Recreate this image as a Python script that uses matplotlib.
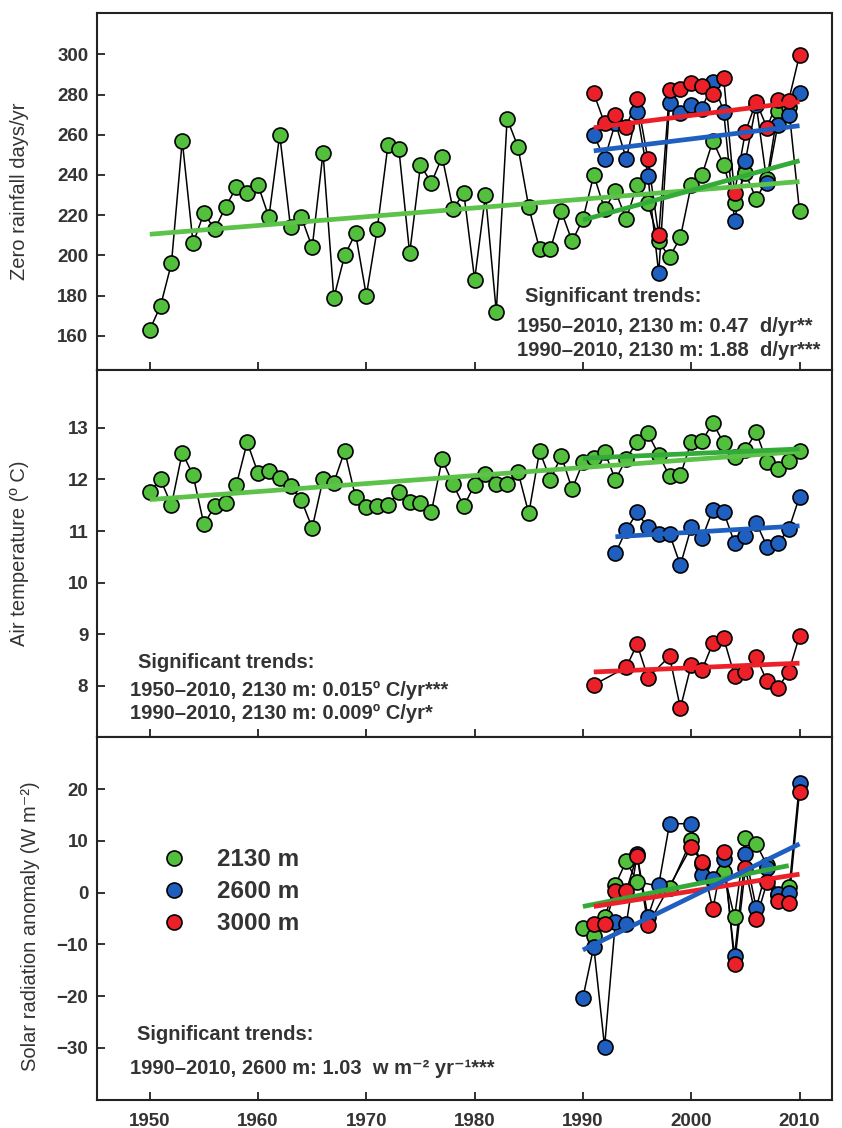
import matplotlib
matplotlib.use("Agg")
import matplotlib.pyplot as plt
from matplotlib.lines import Line2D

plt.rcParams["font.family"] = ["Liberation Sans", "DejaVu Sans"]

GREEN = "#52c03c"
BLUE = "#1f5fc0"
RED = "#ec2028"
GREEN_LONG = "#5cc24a"
GREEN_SHORT = "#34aa38"

# ---------------- data: zero rainfall days ----------------
rain_green_years = list(range(1950, 2011))
rain_green = [163, 175, 196, 257, 206, 221, 213, 224, 234, 231,
              235, 219, 260, 214, 219, 204, 251, 179, 200, 211,
              180, 213, 255, 253, 201, 245, 236, 249, 223, 231,
              188, 230, 172, 268, 254, 224, 203, 203, 222, 207,
              218, 240, 223, 232, 218, 235, 226, 207, 199, 209,
              235, 240, 257, 245, 226, 241, 228, 238, 272, 274,
              222]
rain_blue_years = list(range(1991, 2011))
rain_blue = [260, 248, 266, 248, 271.5, 239.5, 191, 276, 271, 275,
             273, 286.4, 271.5, 217, 247, 275, 236, 265, 270, 280.6]
rain_red_years = list(range(1991, 2011))
rain_red = [280.6, 265.7, 269.8, 264, 277.6, 248, 210, 282.3, 282.6, 285.9,
            284.2, 280.1, 288, 231, 261.5, 276.4, 263.5, 277.3, 277, 299.7]
# trend endpoints (start year, end year, start value, end value)
rain_trends = [
    (1950, 2010, 210.5, 236.7, GREEN_LONG),
    (1990, 2010, 217.6, 247.1, GREEN_SHORT),
    (1991, 2010, 252.0, 264.5, BLUE),
    (1991, 2010, 263.5, 276.4, RED),
]

# ---------------- data: air temperature ----------------
temp_green_years = list(range(1950, 2011))
temp_green = [11.76, 12.0, 11.5, 12.52, 12.08, 11.13, 11.48, 11.55, 11.9, 12.72,
              12.12, 12.17, 12.03, 11.87, 11.6, 11.06, 12.0, 11.94, 12.55, 11.66,
              11.47, 11.48, 11.5, 11.76, 11.57, 11.55, 11.37, 12.39, 11.91, 11.48,
              11.9, 12.1, 11.92, 11.92, 12.15, 11.34, 12.55, 11.99, 12.46, 11.81,
              12.33, 12.41, 12.54, 11.99, 12.4, 12.73, 12.89, 12.48, 12.06, 12.08,
              12.73, 12.74, 13.1, 12.7, 12.43, 12.57, 12.92, 12.33, 12.21, 12.36,
              12.55]
temp_blue_years = list(range(1993, 2011))
temp_blue = [10.57, 11.02, 11.36, 11.07, 10.95, 10.94, 10.34, 11.07, 10.86, 11.41,
             11.37, 10.77, 10.9, 11.16, 10.7, 10.77, 11.03, 11.66]
temp_red_years = [1991, 1994, 1995, 1996, 1998, 1999, 2000, 2001, 2002, 2003,
                  2004, 2005, 2006, 2007, 2008, 2009, 2010]
temp_red = [8.02, 8.36, 8.81, 8.16, 8.57, 7.57, 8.41, 8.31, 8.83, 8.92,
            8.2, 8.27, 8.56, 8.09, 7.96, 8.27, 8.97]
temp_trends = [
    (1950, 2010, 11.61, 12.54, GREEN_LONG),
    (1990, 2010, 12.41, 12.59, GREEN_SHORT),
    (1993, 2010, 10.89, 11.10, BLUE),
    (1991, 2010, 8.27, 8.44, RED),
]

# ---------------- data: solar radiation anomaly ----------------
solar_green_years = [1990, 1991, 1992, 1993, 1994, 1995, 1998, 2000, 2001, 2002,
                     2003, 2004, 2005, 2006, 2007, 2008, 2009]
solar_green = [-6.8, -8.4, -4.8, 1.5, 6.1, 2.1, 0.8, 10.1, 5.5, 2.5,
               3.9, -4.8, 10.5, 9.4, 5.3, -0.5, 1.0]
solar_blue_years = [1990, 1991, 1992, 1993, 1994, 1995, 1996, 1997, 1998, 2000,
                    2001, 2002, 2003, 2004, 2005, 2006, 2007, 2008, 2009, 2010]
solar_blue = [-20.3, -10.45, -29.8, -5.6, -6.1, 7.4, -4.7, 1.5, 13.3, 13.3,
              3.3, 2.6, 6.5, -12.3, 7.4, -3.0, 4.8, -0.3, -0.1, 21.2]
solar_red_years = [1991, 1992, 1993, 1994, 1995, 1996, 2000, 2001, 2002, 2003,
                   2004, 2005, 2006, 2007, 2008, 2009, 2010]
solar_red = [-6.1, -6.1, 0.3, 0.3, 7.1, -6.3, 8.8, 5.9, -3.2, 7.9,
             -13.8, 4.7, -5.2, 2.0, -1.6, -2.1, 19.5]
solar_trends = [
    (1990, 2009, -2.7, 5.2, GREEN_SHORT),
    (1991, 2010, -2.7, 3.55, RED),
    (1990, 2010, -11.1, 9.4, BLUE),
]

legend_labels = ["2130 m", "2600 m", "3000 m"]
xticks = [1950, 1960, 1970, 1980, 1990, 2000, 2010]

W, H = 842, 1128
fig = plt.figure(figsize=(W / 100, H / 100), dpi=100)


def px_axes(x0, y0, x1, y1):
    return fig.add_axes([x0 / W, 1 - y1 / H, (x1 - x0) / W, (y1 - y0) / H])


def draw_series(ax, x, y, color):
    ax.plot(x, y, color="black", lw=1.1, zorder=2)
    ax.plot(x, y, "o", ms=10.8, mfc=color, mec="black", mew=1.2, zorder=3)


def draw_trends(ax, trends):
    for x0, x1, y0, y1, c in trends:
        ax.plot([x0, x1], [y0, y1], color=c, lw=3.4, zorder=4,
                solid_capstyle="butt")


def style(ax, ylim, yticks, show_x):
    ax.set_xlim(1945.1, 2013)
    ax.set_ylim(*ylim)
    ax.set_xticks(xticks)
    ax.set_yticks(yticks)
    ax.tick_params(direction="in", length=6, width=1.3, labelsize=13.5,
                   color="#222222")
    ax.tick_params(axis="x", pad=9)
    ax.tick_params(axis="y", pad=6)
    for lab in ax.get_xticklabels() + ax.get_yticklabels():
        lab.set_fontweight("bold")
        lab.set_color("#333333")
    if not show_x:
        ax.set_xticklabels([])
    for s in ax.spines.values():
        s.set_linewidth(1.5)
        s.set_color("#222222")


ax1 = px_axes(96.7, 13.3, 832, 370)
ax2 = px_axes(96.7, 370, 832, 737)
ax3 = px_axes(96.7, 737, 832, 1100)

# top
draw_series(ax1, rain_green_years, rain_green, GREEN)
draw_series(ax1, rain_blue_years, rain_blue, BLUE)
draw_series(ax1, rain_red_years, rain_red, RED)
draw_trends(ax1, rain_trends)
style(ax1, (143, 320.4), [160, 180, 200, 220, 240, 260, 280, 300], False)
ax1.set_ylabel("Zero rainfall days/yr", fontsize=14.5, color="#333333")
ax1.yaxis.set_label_coords(-0.092, 0.5)

# middle
draw_series(ax2, temp_green_years, temp_green, GREEN)
draw_series(ax2, temp_blue_years, temp_blue, BLUE)
draw_series(ax2, temp_red_years, temp_red, RED)
draw_trends(ax2, temp_trends)
style(ax2, (7.01, 14.12), [8, 9, 10, 11, 12, 13], False)
ax2.set_ylabel("Air temperature (\u00ba C)", fontsize=14.5, color="#333333")
ax2.yaxis.set_label_coords(-0.092, 0.5)

# bottom
draw_series(ax3, solar_green_years, solar_green, GREEN)
draw_series(ax3, solar_blue_years, solar_blue, BLUE)
draw_series(ax3, solar_red_years, solar_red, RED)
draw_trends(ax3, solar_trends)
style(ax3, (-40.1, 30.06), [-30, -20, -10, 0, 10, 20], True)
ax3.set_ylabel("Solar radiation anomaly (W m\u207b\u00b2)", fontsize=14.5,
               color="#333333")
ax3.yaxis.set_label_coords(-0.077, 0.48)

handles = [Line2D([], [], ls="none", marker="o", ms=10.8, mfc=c, mec="black",
                  mew=1.2) for c in (GREEN, BLUE, RED)]
ax3.legend(handles, legend_labels, loc="upper left",
           bbox_to_anchor=(0.0725, 0.727), frameon=False, borderpad=0,
           handlelength=1.0, handletextpad=1.26, labelspacing=0.37,
           prop={"size": 17.5, "weight": "bold"}, labelcolor="#333333")


def note(x, y, s):
    fig.text(x / W, 1 - y / H, s, ha="left", va="center", fontsize=14.5,
             fontweight="bold", color="#333333")


note(525, 297, "Significant trends:")
note(517, 326, "1950\u20132010, 2130 m: 0.47  d/yr**")
note(517, 350, "1990\u20132010, 2130 m: 1.88  d/yr***")

note(138, 662, "Significant trends:")
note(130, 690, "1950\u20132010, 2130 m: 0.015\u00ba C/yr***")
note(130, 713, "1990\u20132010, 2130 m: 0.009\u00ba C/yr*")

note(137, 1035, "Significant trends:")
note(130, 1068, "1990\u20132010, 2600 m: 1.03  w m\u207b\u00b2 yr\u207b\u00b9***")

fig.savefig("out.png", dpi=100)
